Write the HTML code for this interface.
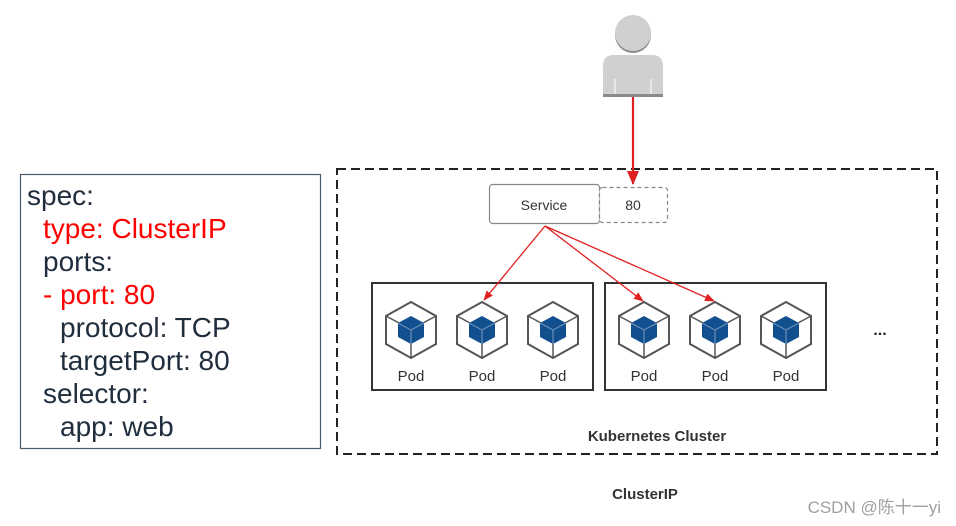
<!DOCTYPE html>
<html><head><meta charset="utf-8"><style>
html,body{margin:0;padding:0;background:#fff;}
svg{display:block;}
</style></head><body>
<svg width="956" height="526" viewBox="0 0 956 526" xmlns="http://www.w3.org/2000/svg">
<defs>
<marker id="ah" markerWidth="10" markerHeight="10" refX="9" refY="5" orient="auto" markerUnits="userSpaceOnUse"><path d="M0,1 L10,5 L0,9 Z" fill="#e02020"/></marker>
<marker id="ah2" markerWidth="14" markerHeight="14" refX="13" refY="7" orient="auto" markerUnits="userSpaceOnUse"><path d="M0,1 L14,7 L0,13 Z" fill="#e02020"/></marker>
<g id="pod">
<path d="M0,-28 L25,-14 L25,14 L0,28 L-25,14 L-25,-14 Z" fill="#fff" stroke="#555" stroke-width="2"/>
<line x1="-25" y1="-14" x2="-12" y2="-7" stroke="#555" stroke-width="1.5"/>
<line x1="25" y1="-14" x2="12" y2="-7" stroke="#555" stroke-width="1.5"/>
<line x1="0" y1="28" x2="0" y2="13" stroke="#555" stroke-width="1.5"/>
<path d="M0,-14 L13,-7 L13,7 L0,14 L-13,7 L-13,-7 Z" fill="#114f8f"/>
<path d="M-13,-7 L0,0 L13,-7 M0,0 L0,14" stroke="#6d8fb8" stroke-width="1.2" fill="none"/>
</g>
</defs>
<!-- spec box -->
<rect x="20.5" y="174.5" width="300" height="274" fill="#fff" stroke="#4a5a6a" stroke-width="1.2"/>
<g font-family="Liberation Sans, sans-serif" font-size="28" fill="#1f2d3d">
<text x="27" y="205">spec:</text>
<text x="43" y="238" fill="#ff0000">type: ClusterIP</text>
<text x="43" y="271">ports:</text>
<text x="43" y="304" fill="#ff0000">- port: 80</text>
<text x="60" y="337">protocol: TCP</text>
<text x="60" y="370">targetPort: 80</text>
<text x="43" y="403">selector:</text>
<text x="60" y="436">app: web</text>
</g>
<!-- cluster -->
<rect x="337" y="169" width="600" height="285" fill="none" stroke="#222" stroke-width="2" stroke-dasharray="9,5"/>
<!-- person -->
<circle cx="633" cy="35" r="18" fill="#8c8c8c"/>
<circle cx="633" cy="33" r="18" fill="#d0d0d0"/>
<path d="M603,96 L603,66 Q603,55 614,55 L652,55 Q663,55 663,66 L663,96 Z" fill="#d0d0d0"/>
<rect x="603" y="94" width="60" height="3" fill="#8a8a8a"/>
<line x1="615" y1="79" x2="615" y2="94" stroke="#fff" stroke-width="1"/>
<line x1="651" y1="79" x2="651" y2="94" stroke="#fff" stroke-width="1"/>
<line x1="633" y1="97" x2="633" y2="184" stroke="#e02020" stroke-width="2.2" marker-end="url(#ah2)"/>
<!-- service -->
<rect x="489.5" y="184.5" width="110" height="39" rx="3" fill="#fff" stroke="#888" stroke-width="1.2"/>
<rect x="599.5" y="187.5" width="68" height="35" rx="3" fill="#fff" stroke="#888" stroke-width="1.2" stroke-dasharray="4,3"/>
<text x="544" y="210" font-family="Liberation Sans, sans-serif" font-size="14" fill="#333" text-anchor="middle">Service</text>
<text x="633" y="210" font-family="Liberation Sans, sans-serif" font-size="14" fill="#333" text-anchor="middle">80</text>
<!-- pod groups -->
<rect x="372" y="283" width="221" height="107" fill="none" stroke="#333" stroke-width="2"/>
<rect x="605" y="283" width="221" height="107" fill="none" stroke="#333" stroke-width="2"/>
<use href="#pod" x="411" y="330"/>
<use href="#pod" x="482" y="330"/>
<use href="#pod" x="553" y="330"/>
<use href="#pod" x="644" y="330"/>
<use href="#pod" x="715" y="330"/>
<use href="#pod" x="786" y="330"/>
<g font-family="Liberation Sans, sans-serif" font-size="15" fill="#333" text-anchor="middle">
<text x="411" y="381">Pod</text><text x="482" y="381">Pod</text><text x="553" y="381">Pod</text>
<text x="644" y="381">Pod</text><text x="715" y="381">Pod</text><text x="786" y="381">Pod</text>
</g>
<g stroke="#e02020" stroke-width="1.3">
<line x1="545" y1="226" x2="484" y2="300" marker-end="url(#ah)"/>
<line x1="545" y1="226" x2="643" y2="301" marker-end="url(#ah)"/>
<line x1="545" y1="226" x2="714" y2="301" marker-end="url(#ah)"/>
</g>
<text x="880" y="335" font-family="Liberation Sans, sans-serif" font-size="16" font-weight="bold" fill="#222" text-anchor="middle">...</text>
<text x="657" y="441" font-family="Liberation Sans, sans-serif" font-size="15" font-weight="bold" fill="#333" text-anchor="middle">Kubernetes Cluster</text>
<text x="645" y="499" font-family="Liberation Sans, sans-serif" font-size="15" font-weight="bold" fill="#333" text-anchor="middle">ClusterIP</text>
<text x="941" y="513" font-family="Liberation Sans, 'Noto Sans CJK SC', sans-serif" font-size="17" fill="#a0a0a0" text-anchor="end">CSDN @陈十一yi</text>
</svg>
</body></html>
